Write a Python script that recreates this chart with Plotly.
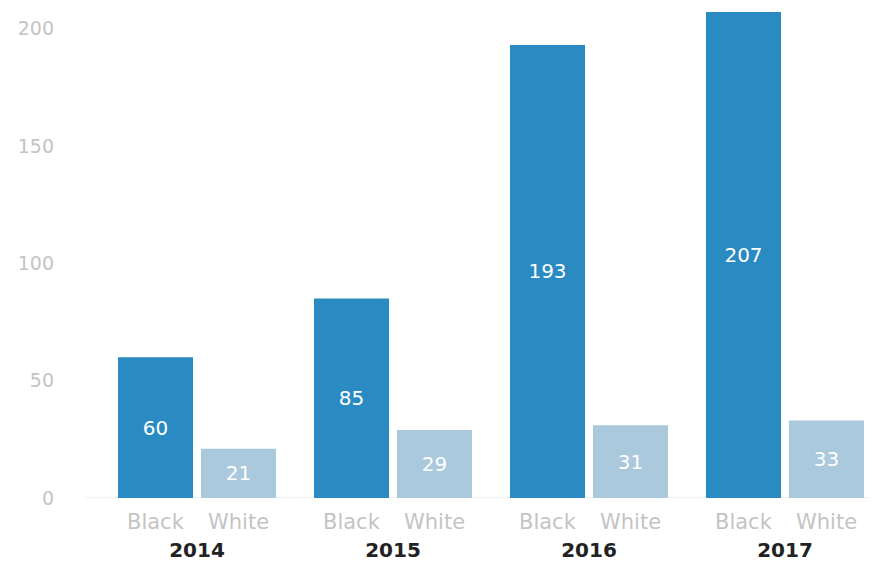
import plotly.graph_objects as go

years = ["2014", "2015", "2016", "2017"]
black_counts = [60, 85, 193, 207]
white_counts = [21, 29, 31, 33]
group_names = ["Black", "White"]
y_ticks = [0, 50, 100, 150, 200]

dark_blue = "#2a8ac2"
light_blue = "#aac9dd"
label_grey = "#c4c4c4"
font_family = "DejaVu Sans, Arial, sans-serif"

fig = go.Figure()
for name, vals, color in [(group_names[0], black_counts, dark_blue),
                          (group_names[1], white_counts, light_blue)]:
    fig.add_trace(go.Bar(
        x=years, y=vals, name=name,
        marker=dict(color=color, line=dict(width=0)),
        text=[str(v) for v in vals],
        textposition="inside",
        insidetextanchor="middle",
        textfont=dict(family=font_family, size=20, color="white"),
        showlegend=False,
    ))

# group labels under each bar (category index positions on the x axis)
for i, yr in enumerate(years):
    for name, shift in [(group_names[0], -41), (group_names[1], 41)]:
        fig.add_annotation(
            x=i, y=0, xref="x", yref="paper", xshift=shift, yshift=-24,
            text=name, showarrow=False, yanchor="middle", xanchor="center",
            font=dict(family=font_family, size=21, color=label_grey),
        )

# faint baseline
fig.add_shape(type="line", xref="x", yref="y", x0=-0.571, x1=3.434, y0=0, y1=0,
              line=dict(color="#e4e4e4", width=1), layer="below")

fig.update_layout(
    width=890, height=566,
    margin=dict(l=60, r=7, t=5, b=68),
    paper_bgcolor="white", plot_bgcolor="white",
    barmode="group", bargap=0.153, bargroupgap=0.096,
    xaxis=dict(
        type="category", range=[-0.699, 3.5],
        showgrid=False, zeroline=False, showline=False, ticks="",
        tickfont=dict(family=font_family, size=20, color="#222222", weight="bold"),
        ticklabelstandoff=38,
    ),
    yaxis=dict(
        range=[0, 210], tickvals=y_ticks,
        showgrid=False, zeroline=False, showline=False, ticks="",
        tickfont=dict(family=font_family, size=19, color=label_grey),
        ticklabelstandoff=5,
    ),
)

fig.write_html("out.html")
